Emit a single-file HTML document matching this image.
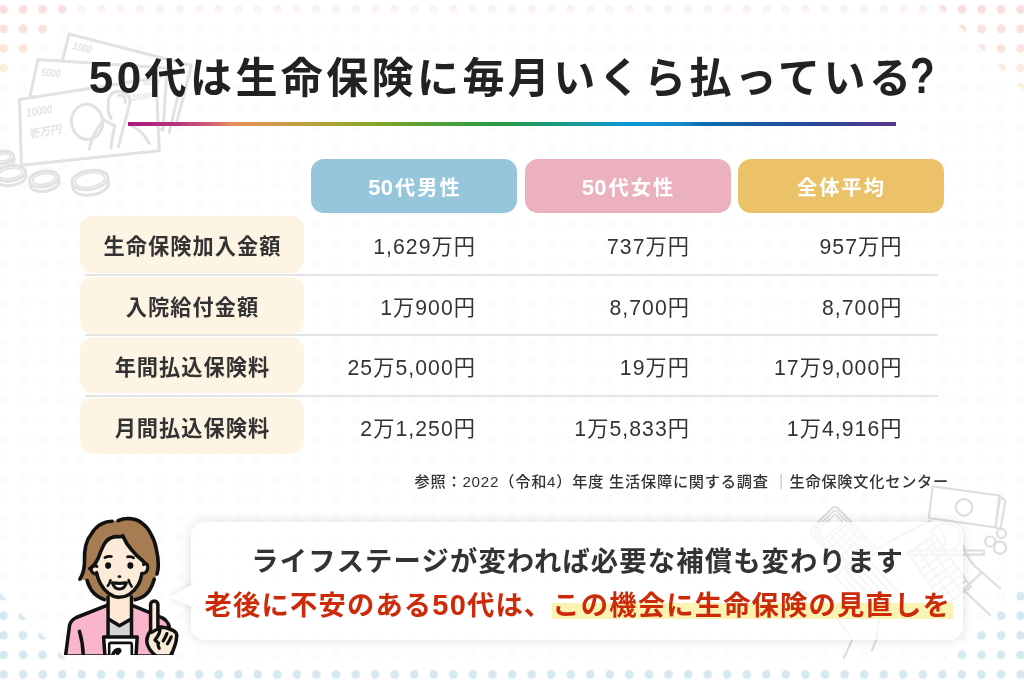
<!DOCTYPE html>
<html lang="ja">
<head>
<meta charset="utf-8">
<title>50代は生命保険に毎月いくら払っている?</title>
<style>
*{margin:0;padding:0;box-sizing:border-box}
html,body{width:1024px;height:683px;overflow:hidden;background:#fff}
body{font-family:"Liberation Sans","Noto Sans CJK JP",sans-serif;color:#333;position:relative}
#stage{position:absolute;left:0;top:0;width:1024px;height:683px;overflow:hidden;background:#fff}
.abs{position:absolute}
h1 .n{font-size:44px}
h1 .q{display:inline-block;font-size:45px;margin-left:-4px;transform:scale(.9,1.09);transform-origin:0 78%}
#bg{position:absolute;left:0;top:0}
h1{position:absolute;left:1px;top:45.5px;width:1024px;text-align:center;font-size:42px;line-height:64px;font-weight:700;letter-spacing:3.4px;color:#222;white-space:nowrap;padding-left:4px}
#bar{position:absolute;left:128px;top:121.5px;width:768px;height:4.7px;background:linear-gradient(90deg,#a5187f 0%,#b8357f 6.4%,#cf6070 10.7%,#e68e5a 13.5%,#d09a4a 19.5%,#b0a438 25.4%,#8aa52a 31.8%,#55a035 39%,#2a9a45 48.8%,#1a9a7a 54.8%,#1a9aa8 59.8%,#0a9ad5 64.6%,#1a8ac8 72%,#0c6cb2 75%,#1a559f 84%,#2f4595 91.4%,#5a3590 100%)}
#tbl,#tbl thead,#tbl tbody,#tbl tr{display:contents}
.corner{display:none}
.c1{left:276px}.c2{left:490px}.c3{left:702.5px}
.pill .n{font-size:22px;letter-spacing:.3px;margin-right:1.7px}
.pill{position:absolute;top:159px;width:206px;height:54px;border-radius:13px;color:#fff;font-weight:700;font-size:20.2px;letter-spacing:2px;text-align:center;line-height:58px;padding-left:2px}
.p1{left:311px;background:#96c6dc}
.p2{left:524.5px;background:#ebb1bf}
.p3{left:737.5px;background:#ebc267}
.lab{position:absolute;left:80px;width:224px;height:56.5px;border-radius:13px;background:#fef4e4;font-weight:700;font-size:21.2px;letter-spacing:1.06px;text-align:center;line-height:61.5px;color:#333;padding-left:1px}
.sep{position:absolute;left:85px;width:853px;height:2px;background:#e4e4e4}
.val{position:absolute;width:200px;text-align:right;font-size:21.2px;letter-spacing:1.06px;line-height:30px;color:#333;white-space:nowrap}
#src{position:absolute;right:75px;top:470px;font-weight:500;font-size:15.2px;letter-spacing:.76px;line-height:24px;color:#333;white-space:nowrap}
#src .bar{color:#999}
#bubble{position:absolute;left:190.7px;top:522px;width:772.5px;height:118px;border-radius:14px;background:rgba(255,255,255,.72);box-shadow:0 0 12px 1px rgba(0,0,0,.11)}
#tail{position:absolute;left:150px;top:570px;width:41.6px;height:55px;overflow:hidden}
.l1{position:absolute;left:251.3px;top:544px;font-size:27.3px;letter-spacing:1.16px;line-height:36px;font-weight:700;color:#333;white-space:nowrap}
.l2{position:absolute;left:204.6px;top:587.4px;font-size:27.3px;letter-spacing:1.17px;line-height:36px;font-weight:700;color:#cc2a08;white-space:nowrap}
.l2 .n{font-size:29px}
.mk{background:linear-gradient(transparent 41%,#fbf3b4 41%,#fbf3b4 95%,transparent 95%);padding:0 2px 0 0}
</style>
</head>
<body>
<div id="stage">
<svg id="bg" width="1024" height="683" viewBox="0 0 1024 683">
<defs>
<pattern id="dots" x="-6.28" y="-0.38" width="19.56" height="19.56" patternUnits="userSpaceOnUse"><circle cx="9.78" cy="9.78" r="4.4" fill="#fff"/></pattern>
<mask id="dm" maskUnits="userSpaceOnUse" x="0" y="0" width="1024" height="683"><rect width="1024" height="683" fill="url(#dots)"/></mask>
<linearGradient id="pk" x1="0" y1="0" x2="0" y2="1"><stop offset="0" stop-color="#f9dddf"/><stop offset=".5" stop-color="#fbe3dd"/><stop offset="1" stop-color="#fdf3dc"/></linearGradient>
<linearGradient id="tb" x1="0" y1="0" x2="0" y2="1"><stop offset="0.2" stop-color="#fcefef"/><stop offset="1" stop-color="#fefafa"/></linearGradient>
</defs>
<g mask="url(#dm)">
<rect width="1024" height="683" fill="#fcfcfd"/>
<rect x="0" y="0" width="1024" height="19.3" fill="url(#tb)"/>
<rect x="0" y="19.3" width="1024" height="19.6" fill="#fefbf8"/>
<polygon points="0,0 80,0 0,80" fill="url(#pk)"/>
<polygon points="932.7,0 1024,0 1024,91.3" fill="url(#pk)"/>
<polygon points="0,593 0,683 90,683" fill="#d6e9f1"/>
<polygon points="1024,579 1024,683 920,683" fill="#d6e9f1"/>
<rect x="0" y="665" width="1024" height="18" fill="#d6e9f1"/>
</g>
</svg>

<svg id="deco" class="abs" style="left:0;top:0" width="1024" height="683" viewBox="0 0 1024 683" font-family="'Liberation Sans','Noto Sans CJK JP',sans-serif">
<!-- top-left: banknotes and coins -->
<g fill="#fff" stroke="#e2e2e2" stroke-width="3" stroke-linejoin="round" stroke-linecap="round">
<polygon points="69.2,34 191.4,65.5 175.9,125.5 53.7,94"/>
<path d="M178,95.4 L169.2,132.3" fill="none"/>
<polygon points="38,59.6 167,68 163,130 30,96"/>
<polygon points="19.5,99.5 156,78 159.3,150.8 21.5,165.2"/>
<ellipse cx="87.1" cy="121.9" rx="15.6" ry="17.6" transform="rotate(-8 87.1 121.9)" fill="none"/>
<path d="M108.5,103.5 C107.6,96.5 112,91.6 118.2,91.6 C124.5,91.6 129.4,94.5 130.3,100.5 C127,115 122,132 118.6,146.4" fill="none"/>
<path d="M118.6,95.4 C122.8,94.2 126,97.2 125.4,102.8" fill="none"/>
<path d="M108.5,103.5 C107.4,108.5 108.4,114 111.2,118.6 M103.9,120 L114.9,125.8 M103.9,120 C97,128 91,138 89.3,149.3 M114.9,125.8 C113,133 111.6,140 111.2,147.8" fill="none"/>
<path d="M128.8,124.4 C138,128 145,135 149.3,143.5" fill="none"/>
</g>
<g fill="#e3e3e3" font-style="italic" font-weight="700">
<text x="0" y="0" font-size="11" transform="translate(72,49) rotate(14) scale(.8,1)">1000</text>
<text x="0" y="0" font-size="11" transform="translate(41,76) rotate(4) scale(.8,1)">5000</text>
<text x="0" y="0" font-size="12" transform="translate(27,117) rotate(-9) scale(.78,1)">10000</text>
<text x="0" y="0" font-size="11" transform="translate(29,138) rotate(-9)">壱万円</text>
<text x="0" y="0" font-size="9" transform="translate(132.5,101) rotate(-9) scale(.8,1)">10000</text>
<text x="0" y="0" font-size="9" transform="translate(143,85) rotate(4) scale(.8,1)">5000</text>
</g>
<g fill="#fff" stroke="#e2e2e2" stroke-width="3">
<g transform="rotate(-9 3 157.5)"><path d="M-7.5,161.5 A10.5,6 0 0 0 13.5,161.5 L13.5,157.5 A10.5,6 0 0 0 -7.5,157.5 Z"/><ellipse cx="3" cy="157.5" rx="10.5" ry="6"/><ellipse cx="3" cy="157.5" rx="7.3" ry="3.4" stroke-width="1.6"/></g>
<g transform="rotate(-9 10.5 173.5)"><path d="M-4.5,178 A15,7.5 0 0 0 25.5,178 L25.5,173.5 A15,7.5 0 0 0 -4.5,173.5 Z"/><ellipse cx="10.5" cy="173.5" rx="15" ry="7.5"/><ellipse cx="10.5" cy="173.5" rx="11.8" ry="4.9" stroke-width="1.6"/></g>
<g transform="rotate(-9 44 179)"><path d="M29.5,183.5 A14.5,7.8 0 0 0 58.5,183.5 L58.5,179 A14.5,7.8 0 0 0 29.5,179 Z"/><ellipse cx="44" cy="179" rx="14.5" ry="7.8"/><ellipse cx="44" cy="179" rx="11.3" ry="5.2" stroke-width="1.6"/></g>
<g transform="rotate(-9 90 180)"><path d="M72,185.5 A18,9.5 0 0 0 108,185.5 L108,180 A18,9.5 0 0 0 72,180 Z"/><ellipse cx="90" cy="180" rx="18" ry="9.5"/><ellipse cx="90" cy="180" rx="14.8" ry="6.9" stroke-width="1.6"/></g>
</g>
<!-- bottom-right: calculator, notebook, banknote, coins, arm -->
<g fill="none" stroke="#dedede" stroke-width="2.2" stroke-linejoin="round" stroke-linecap="round">
<polygon points="1000.4,496.5 1005.5,500.6 1000.4,529.3 995.3,527.3" />
<polygon points="932.8,486.3 999.4,495.5 995.3,527.3 928.7,518" fill="#fff"/>
<circle cx="964.1" cy="507.4" r="8.2"/>
<circle cx="1001.4" cy="533.4" r="4.5"/>
<circle cx="990.2" cy="541.6" r="5.1"/>
<circle cx="1000" cy="547.7" r="6.1"/>
<rect x="907" y="550.5" width="77" height="4.2"/>
<path d="M963.5,545.7 C966,556 972,565 982,572.3 L1000.4,588.7 M982,572.3 L963.5,589.8 L990,615"/>
<path d="M851.9,640.3 L844,658 M876.5,638.6 L872,650.9"/>
<g transform="translate(835.1,505.5) rotate(45.7)">
<rect x="0" y="0" width="62" height="37" rx="4"/>
<rect x="3" y="3" width="56" height="31" rx="2.5" stroke-width="1.6"/>
<rect x="6" y="6" width="11" height="25" rx="1.5" stroke-width="1.6"/>
<path d="M21,6 V31 M27.5,6 V31 M34,6 V31 M40.500,6 V31 M47,6 V31 M53.5,6 V31 M21,6 H56 M21,12.2 H56 M21,18.500 H56 M21,24.800 H56 M21,31 H56" stroke-width="1.8"/>
</g>
<g transform="translate(908,553) rotate(55)" stroke-width="1.8">
<rect x="0" y="-32" width="64" height="32"/>
<path d="M7,-32 V0 M14,-32 V0 M21,-32 V0 M28,-32 V0 M35,-32 V0 M42,-32 V0 M49,-32 V0 M56,-32 V0 M0,-21 H64 M0,-10 H64"/>
</g>
<g transform="translate(862,552) rotate(48)" stroke-width="1.8">
<rect x="0" y="0" width="56" height="36"/>
<path d="M8,6 H48 M8,12 H48 M8,18 H48 M8,24 H40 M8,30 H40"/>
</g>
<path d="M878,549 C895,538 912,530 930,521 M800,590 C820,600 842,620 852,640 M884,600 C880,615 877.5,628 876.5,638.6 M846,572 C858,585 872,594 884,600"/>
<path d="M931,532 C936,524 947,521 955,526 C962,531 962,541 956,547 C950,552 938,552 933,546 Z M940,528 C944,533 946,538 945,545"/>
</g>
</svg>
<h1><span class="n">50</span>代は生命保険に毎月いくら払っている<span class="q">?</span></h1>
<div id="bar"></div>
<table id="tbl">
<thead><tr><th class="corner"></th><th class="pill p1"><span class="n">50</span>代男性</th><th class="pill p2"><span class="n">50</span>代女性</th><th class="pill p3">全体平均</th></tr></thead>
<tbody>
<tr><th class="lab" style="top:216px">生命保険加入金額</th><td class="val c1" style="top:231.8px">1,629万円</td><td class="val c2" style="top:231.8px">737万円</td><td class="val c3" style="top:231.8px">957万円</td></tr>
<tr><th class="lab" style="top:277px">入院給付金額</th><td class="val c1" style="top:292.8px">1万900円</td><td class="val c2" style="top:292.8px">8,700円</td><td class="val c3" style="top:292.8px">8,700円</td></tr>
<tr><th class="lab" style="top:336.8px">年間払込保険料</th><td class="val c1" style="top:353.3px">25万5,000円</td><td class="val c2" style="top:353.3px">19万円</td><td class="val c3" style="top:353.3px">17万9,000円</td></tr>
<tr><th class="lab" style="top:397.7px">月間払込保険料</th><td class="val c1" style="top:413.8px">2万1,250円</td><td class="val c2" style="top:413.8px">1万5,833円</td><td class="val c3" style="top:413.8px">1万4,916円</td></tr>
</tbody>
</table>
<div class="sep" style="top:273.9px"></div>
<div class="sep" style="top:333.6px"></div>
<div class="sep" style="top:394.7px"></div>
<div id="src">参照：2022（令和4）年度 生活保障に関する調査 <span class="bar">｜</span>生命保険文化センター</div>

<svg id="woman" class="abs" style="left:0;top:0" width="1024" height="683" viewBox="0 0 1024 683">
<defs><clipPath id="wc"><rect x="50" y="500" width="140" height="155"/></clipPath></defs>
<g clip-path="url(#wc)" stroke-linecap="round" stroke-linejoin="round">
<!-- hair back -->
<path d="M79.9,579.2 C83,574 84.5,568 84.5,562 C84,548 87,539 91.1,534.4 C95,528 99,525 101.6,523.9 C106,521.6 112,520.8 118.1,520.6 C122,519 126,518.4 129.3,518.6 C134,518.8 138,520 141.1,522.5 C146,526 149,530 150.4,533.1 C154,539 155.5,544 156.3,548.9 C157.5,554 158.3,560 158.3,564.7 C158.3,570 157,576 154.3,579.2 C153,584 151,588 149.1,591 C147,594 144,596.5 141.1,597.6 L135.2,599.6 L104.3,599.6 C100,597.8 95,594.5 91.1,589.7 C89.5,587 88,584 87.1,580.5 Z" fill="#a67c52"/>
<!-- jacket -->
<path d="M107,605.4 L76.3,617.5 C72.5,619.5 70.6,621.5 69.6,625 L65.5,656 L172,656 L169.6,627.6 C168.5,622.5 164,618 158.2,616.2 L132.2,605.4 Z" fill="#f9b5c9" stroke="#111" stroke-width="3.5"/>
<!-- neck + shirt -->
<path d="M108.05,596 L108.05,637.5 L131.5,637.5 L131.5,596 Z" fill="#fde9d6"/>
<path d="M108.05,619.4 L109.3,619.4 L119.5,625.7 L130.3,619.4 L131.5,619.4 L131.5,638 L108.05,638 Z" fill="#d5d5d5"/>
<path d="M109.3,619.4 L119.5,625.7 L130.3,619.4" fill="none" stroke="#111" stroke-width="3.5"/>
<path d="M108.05,597 L108.05,637.5 M131.5,597 L131.5,637.5" fill="none" stroke="#111" stroke-width="3.5"/>
<!-- card -->
<path d="M103.6,637.1 L137.2,637.1 L136,656 L104.9,656 Z" fill="#fff" stroke="#111" stroke-width="3.5"/>
<path d="M109.2,656 L109.2,644.6 Q109.2,642.9 110.9,642.9 L130.1,642.9 Q131.8,642.9 131.8,644.6 L131.8,656" fill="#fff" stroke="#111" stroke-width="2.6"/>
<path d="M112.5,655.5 C114,651.5 116.5,649.2 119.2,649.6 C120.4,650 119.6,652 117.6,653.4" fill="none" stroke="#111" stroke-width="3.6"/>
<!-- arm crease -->
<path d="M79.5,631.4 C81.5,638 83,646 83.3,656" fill="none" stroke="#111" stroke-width="3.5"/>
<!-- face -->
<path d="M120.5,536.5 C114,536 109,538 106,541.5 C102.5,546 100.5,552 98.3,558.1 L96.6,566 C93,564.8 91,566.5 91.2,569.3 C91.5,572.5 94,574.6 96.9,573.8 C98,578 99,581 100.3,583.4 C102.5,587.8 105,590.6 108.6,593.4 C111.8,595.8 115.3,597.2 119,597.2 C122.8,597.2 126.3,596.2 129.3,594.4 C133,592 136,588.8 138.3,584.7 C140,581.3 141.3,577.6 141.9,573.6 C145,574 147.6,571.5 147.8,568 C148,565 146.5,563.2 144.6,563.6 C143.5,562 142.5,560.8 141.1,559.4 C138,557 135,554 131.9,550.2 C128,546 125,541 122.7,535.7 Z" fill="#fdebd9"/>
<path d="M96.5,572.6 C97.5,577 98.8,580.5 100.3,583.4 C102.5,587.8 105,590.6 108.6,593.4 C111.8,595.8 115.3,597.2 119,597.2 C122.8,597.2 126.3,596.2 129.3,594.4 C133,592 136,588.8 138.3,584.7 C140,581.3 141.3,577.6 141.9,573.4" fill="none" stroke="#111" stroke-width="3.5"/>
<!-- ears -->
<path d="M96.8,566.3 C93.5,564.6 91,566.4 91.2,569.3 C91.5,572.5 94,574.6 96.9,573.8" fill="none" stroke="#111" stroke-width="3.2"/>
<path d="M143.6,564.5 C146.3,562.6 148.2,564.6 147.8,568 C147.5,571.3 145,573.8 142.2,573.4" fill="none" stroke="#111" stroke-width="3.2"/>
<!-- hair strokes -->
<path d="M79.9,579.2 C83,574 84.5,568 84.5,562 C84,548 87,539 91.1,534.4 C95,528 99,525 101.6,523.9 C105,522 109,521.2 112.2,521.2" fill="none" stroke="#111" stroke-width="3.6"/>
<path d="M118.1,520.6 C122,519 126,518.4 129.3,518.6 C134,518.8 138,520 141.1,522.5 C146,526 149,530 150.4,533.1 C154,539 155.5,544 156.3,548.9 C157.5,554 158.3,560 158.3,564.7 C158.3,568 158,571 157,574" fill="none" stroke="#111" stroke-width="3.6"/>
<path d="M154.3,579.2 C153,584 151,588 149.1,591 C147,594 144,596.5 141.1,597.6 C139,598.6 137,599.3 135.2,599.6" fill="none" stroke="#111" stroke-width="3.6"/>
<path d="M87.1,580.5 C88,584 89.5,587 91.1,589.7 C93,592.5 95,594.5 97.7,596.3 C100,597.8 102,598.8 104.3,599.6" fill="none" stroke="#111" stroke-width="3.6"/>
<path d="M120.5,536.8 C114,536 109,538 106,541.5 C102.5,546 100.5,552 98.3,558.1 C96,563 93,567 89.8,568.7" fill="none" stroke="#111" stroke-width="3.6"/>
<path d="M122.7,535.7 C125,541 128,546 131.9,550.2 C135,554 138,557 141.1,559.4 C143,561 144,562.2 145.1,563.4" fill="none" stroke="#111" stroke-width="3.6"/>
<!-- face features -->
<path d="M104.9,557.6 Q108,555.8 111.4,556.5 M127.6,556.9 Q130.8,556.2 133.5,557.7" fill="none" stroke="#111" stroke-width="2.8"/>
<ellipse cx="108.1" cy="565.6" rx="3" ry="3.3" fill="#111"/>
<ellipse cx="130.4" cy="565.6" rx="3" ry="3.3" fill="#111"/>
<ellipse cx="119.4" cy="576.7" rx="1.9" ry="1.4" fill="#111"/>
<path d="M112.4,582.9 Q119.5,583.8 126.4,582.9 Q124.6,589 119.4,589 Q114.2,589 112.4,582.9 Z" fill="#fff" stroke="#111" stroke-width="3.1"/>
<path d="M110.5,580.2 C110,582.5 109,584.5 107.8,585.8 M128.6,580.2 C129.3,582.8 130.4,585 131.7,586.5" fill="none" stroke="#111" stroke-width="2.6"/>
<!-- hand -->
<path d="M150.6,630.8 L150.6,604.6 A3.65,3.65 0 0 1 157.9,604.6 L157.9,627 C160,626.6 162,627 163.9,627.6 C166.5,627.6 168.5,628.4 170.3,629.5 C172.5,629.8 174.2,630.8 175.3,632 C176.8,633.5 177,635.2 176.6,637.1 C176.4,640.5 175.8,643.5 174.7,646 C173.6,649.5 172,653 170.3,656 L156.3,656 C153.3,654 151,651.5 149.3,648.6 C147.6,646 146.8,643.5 146.8,640.9 C146.8,637.5 148,634 150.6,630.8 Z" fill="#fdebd9" stroke="#111" stroke-width="3.5"/>
<path d="M151.6,632.4 L159.6,627.9 M160.2,629 C159.8,633 158.4,636 154.9,640 L158.6,643.2 M157.6,642.4 C157.8,644.6 158.3,646.4 159.2,648.2 M166.9,633.6 C165.8,636.4 164.6,638.8 163.2,641 M171.2,636.8 C170,639.4 168.8,641.8 167.4,643.8" fill="none" stroke="#111" stroke-width="3.2"/>
</g>
</svg>
<div id="bubble"></div>
<svg id="tail" viewBox="0 0 41.6 55"><defs><filter id="ts" x="-50%" y="-50%" width="200%" height="200%"><feGaussianBlur stdDeviation="3.5"/></filter></defs><path d="M60,8 L41,15.2 L18.8,27.5 L41,36.5 L60,44 Z" fill="#000" opacity=".13" filter="url(#ts)"/><path d="M45,15.2 L41,15.2 L18.8,27.5 L41,36.5 L45,36.5 Z" fill="#fff"/></svg>
<div class="l1">ライフステージが変われば必要な補償も変わります</div>
<div class="l2">老後に不安のある<span class="n">50</span>代は、<span class="mk">この機会に生命保険の見直しを</span></div>
</div>
</body>
</html>
